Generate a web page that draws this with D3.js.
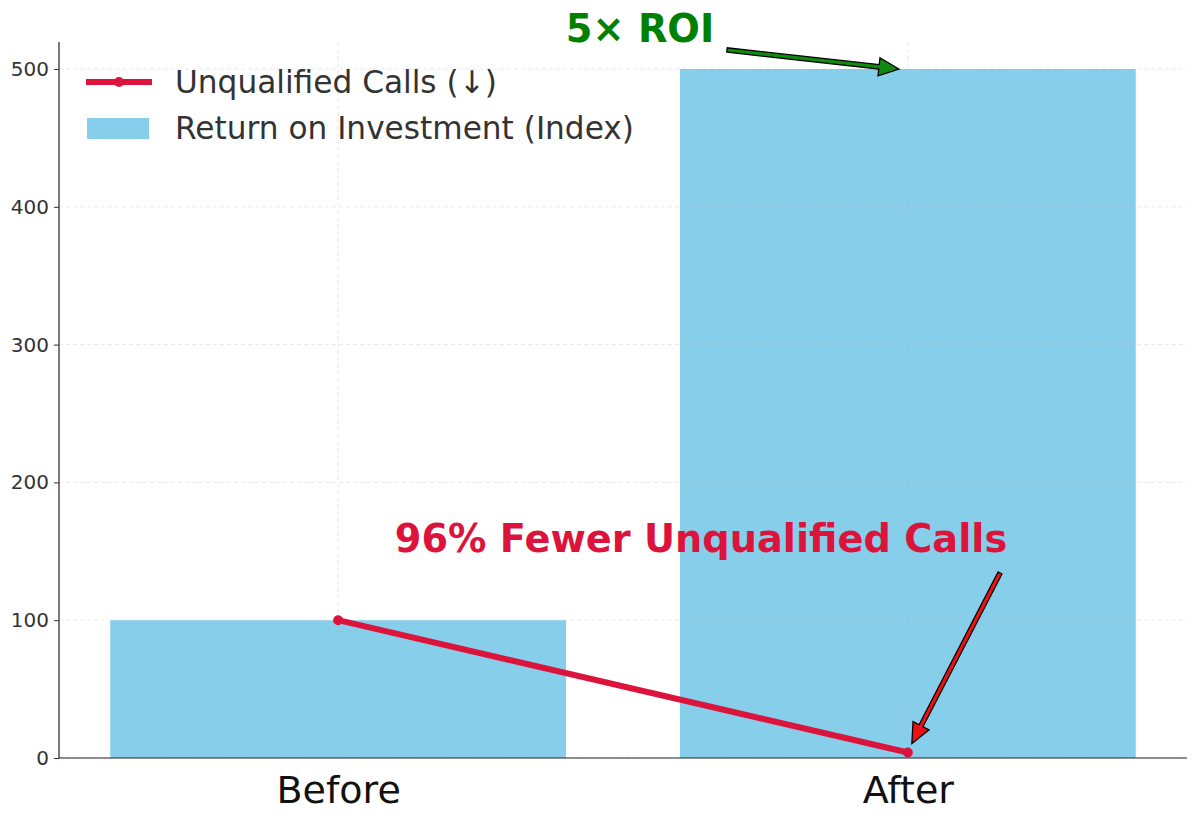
<!DOCTYPE html>
<html><head><meta charset="utf-8">
<script src="https://cdn.jsdelivr.net/npm/d3@7"></script>
<style>body{margin:0;background:#fff}</style>
</head><body>
<svg id="c" width="1200" height="825"></svg>
<script>
const categories = ["Before", "After"];
const roiValues = [100, 500];
const unqualifiedCalls = [100, 4];
const yTicks = [0, 100, 200, 300, 400, 500];
const legendLabels = ["Unqualified Calls (↓)", "Return on Investment (Index)"];
const roiNote = "5× ROI";
const callsNote = "96% Fewer Unqualified Calls";

const svg = d3.select("#c");
const font = "DejaVu Sans, sans-serif";
const W = 1200, H = 825;
const m = {l: 59, r: 13, t: 42, b: 67};
const x = d3.scaleLinear().domain([-0.49, 1.49]).range([m.l, W - m.r]);
const y = d3.scaleLinear().domain([0, 519.6]).range([H - m.b, m.t]);
const barW = 0.8;

// bars
svg.append("g").selectAll("rect").data(roiValues).join("rect")
  .attr("x", (d, i) => x(i - barW / 2))
  .attr("width", (d, i) => x(i + barW / 2) - x(i - barW / 2))
  .attr("y", d => y(d)).attr("height", d => y(0) - y(d))
  .attr("fill", "#87CEEB");

// grid
const grid = svg.append("g").attr("stroke", "#b0b0b0").attr("stroke-opacity", 0.35)
  .attr("stroke-dasharray", "4,3").attr("stroke-width", 0.8);
grid.selectAll("line.h").data(yTicks).join("line").attr("class", "h")
  .attr("x1", m.l).attr("x2", W - m.r).attr("y1", d => y(d)).attr("y2", d => y(d));
grid.selectAll("line.v").data(categories).join("line").attr("class", "v")
  .attr("x1", (d, i) => x(i)).attr("x2", (d, i) => x(i)).attr("y1", m.t).attr("y2", H - m.b);

// axes
const ya = svg.append("g").attr("transform", `translate(${m.l},0)`)
  .call(d3.axisLeft(y).tickValues(yTicks).tickSize(5).tickPadding(5));
ya.select(".domain").attr("stroke", "#222").attr("stroke-width", 1.2).attr("d", `M0,${m.t}V${H - m.b}`);
ya.selectAll(".tick text").attr("font-family", font).attr("font-size", 20).attr("fill", "#333");
ya.selectAll(".tick line").attr("stroke", "#333");

const xa = svg.append("g").attr("transform", `translate(0,${H - m.b})`)
  .call(d3.axisBottom(x).tickValues([0, 1]).tickFormat(i => categories[i]).tickSize(0).tickPadding(18));
xa.select(".domain").attr("stroke", "#222").attr("stroke-width", 1.2).attr("d", `M${m.l},0H${W - m.r}`);
xa.selectAll(".tick text").attr("font-family", font).attr("font-size", 38).attr("fill", "#111")
  .attr("dy", "0.71em");

// line
const line = d3.line().x((d, i) => x(i)).y(d => y(d));
svg.append("path").datum(unqualifiedCalls).attr("d", line)
  .attr("fill", "none").attr("stroke", "#DC143C").attr("stroke-width", 6).attr("stroke-linecap", "round");
svg.append("g").selectAll("circle").data(unqualifiedCalls).join("circle")
  .attr("cx", (d, i) => x(i)).attr("cy", d => y(d)).attr("r", 5).attr("fill", "#DC143C");

// arrows
function arrow(x0, y0, x1, y1, fill) {
  const dx = x1 - x0, dy = y1 - y0, L = Math.hypot(dx, dy);
  const ux = dx / L, uy = dy / L, px = -uy, py = ux;
  const hl = 20, hw = 9, sw = 2.2;
  const bx = x1 - ux * hl, by = y1 - uy * hl;
  const pts = [
    [x0 + px * sw, y0 + py * sw], [bx + px * sw, by + py * sw], [bx + px * hw, by + py * hw],
    [x1, y1], [bx - px * hw, by - py * hw], [bx - px * sw, by - py * sw], [x0 - px * sw, y0 - py * sw]
  ];
  svg.append("path").attr("d", "M" + pts.map(p => p.join(",")).join("L") + "Z")
    .attr("fill", fill).attr("stroke", "#000").attr("stroke-width", 1.3).attr("stroke-linejoin", "miter");
}
arrow(727, 50, x(1) - 9, y(roiValues[1]), "#118811");
arrow(1000, 573, x(1) + 4, y(unqualifiedCalls[1]) - 9, "#ee1111");

svg.append("text").attr("x", 640).attr("y", 42).attr("text-anchor", "middle")
  .attr("font-family", font).attr("font-weight", "bold").attr("font-size", 38.3).attr("fill", "#008000")
  .text(roiNote);
svg.append("text").attr("x", 701).attr("y", 552).attr("text-anchor", "middle")
  .attr("font-family", font).attr("font-weight", "bold").attr("font-size", 38.3).attr("fill", "#DC143C")
  .text(callsNote);

// legend
const lg = svg.append("g");
lg.append("line").attr("x1", 86).attr("x2", 152).attr("y1", 82).attr("y2", 82)
  .attr("stroke", "#DC143C").attr("stroke-width", 6);
lg.append("circle").attr("cx", 119).attr("cy", 82).attr("r", 5).attr("fill", "#DC143C");
lg.append("rect").attr("x", 87).attr("y", 118).attr("width", 62).attr("height", 21).attr("fill", "#87CEEB");
lg.selectAll("text").data(legendLabels).join("text")
  .attr("x", 175).attr("y", (d, i) => 93 + i * 46)
  .attr("font-family", font).attr("font-size", 31.2).attr("fill", "#333").text(d => d);
</script>
</body></html>
